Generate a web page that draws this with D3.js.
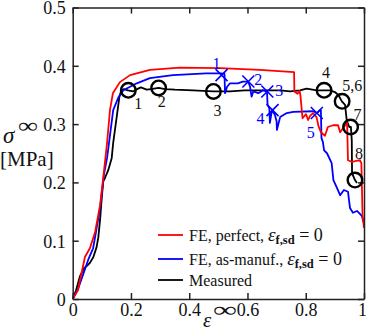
<!DOCTYPE html>
<html><head><meta charset="utf-8">
<script src="https://cdn.jsdelivr.net/npm/d3@7"></script>
<style>body{margin:0;background:#fff}svg{display:block}text{font-family:"Liberation Serif","Times New Roman",serif;fill:#111}</style>
</head><body><svg id="c" width="366" height="332"></svg>
<script>
// ---------- data ----------
const xTicks = [0, 0.2, 0.4, 0.6, 0.8, 1];
const xTickLabels = ["0", "0.2", "0.4", "0.6", "0.8", "1"];
const yTicks = [0, 0.1, 0.2, 0.3, 0.4, 0.5];
const yTickLabels = ["0", "0.1", "0.2", "0.3", "0.4", "0.5"];

const redCurve = [[0,0],[0.018,0.015],[0.042,0.072],[0.059,0.087],[0.077,0.115],[0.094,0.161],[0.104,0.204],[0.118,0.268],[0.128,0.324],[0.138,0.353],[0.162,0.372],[0.197,0.384],[0.265,0.393],[0.368,0.397],[0.506,0.396],[0.643,0.393],[0.760,0.389],[0.761,0.356],[0.772,0.352],[0.779,0.357],[0.782,0.348],[0.789,0.310],[0.801,0.317],[0.808,0.307],[0.815,0.314],[0.825,0.319],[0.837,0.312],[0.844,0.296],[0.852,0.286],[0.866,0.280],[0.876,0.295],[0.894,0.298],[0.911,0.298],[0.918,0.286],[0.928,0.293],[0.942,0.302],[0.945,0.238],[0.959,0.235],[0.973,0.237],[0.986,0.238],[0.991,0.233],[0.995,0.144],[1.0,0.122]];

const blueCurve = [[0,0],[0.018,0.017],[0.035,0.041],[0.053,0.067],[0.070,0.087],[0.080,0.115],[0.094,0.156],[0.107,0.213],[0.118,0.242],[0.126,0.273],[0.139,0.324],[0.157,0.346],[0.174,0.358],[0.220,0.370],[0.265,0.379],[0.344,0.384],[0.458,0.387],[0.509,0.387],[0.521,0.386],[0.523,0.353],[0.530,0.364],[0.540,0.370],[0.567,0.370],[0.584,0.373],[0.602,0.373],[0.609,0.364],[0.614,0.347],[0.620,0.356],[0.637,0.353],[0.654,0.358],[0.667,0.355],[0.669,0.333],[0.675,0.327],[0.677,0.302],[0.684,0.324],[0.694,0.316],[0.700,0.305],[0.701,0.290],[0.712,0.312],[0.735,0.319],[0.757,0.321],[0.825,0.322],[0.839,0.319],[0.849,0.324],[0.852,0.324],[0.854,0.276],[0.859,0.269],[0.863,0.255],[0.873,0.250],[0.889,0.233],[0.895,0.204],[0.906,0.192],[0.918,0.178],[0.931,0.187],[0.945,0.184],[0.952,0.156],[0.962,0.148],[0.976,0.151],[0.986,0.146],[0.993,0.142],[0.998,0.132]];

const blackCurve = [[0,0],[0.011,0.014],[0.025,0.039],[0.039,0.053],[0.049,0.057],[0.059,0.062],[0.071,0.072],[0.082,0.089],[0.088,0.106],[0.094,0.136],[0.100,0.175],[0.105,0.202],[0.111,0.208],[0.122,0.221],[0.134,0.242],[0.139,0.268],[0.151,0.312],[0.160,0.346],[0.166,0.357],[0.176,0.360],[0.190,0.358],[0.207,0.356],[0.221,0.360],[0.234,0.363],[0.254,0.359],[0.269,0.360],[0.295,0.362],[0.317,0.360],[0.351,0.359],[0.413,0.358],[0.483,0.356],[0.540,0.356],[0.591,0.358],[0.653,0.358],[0.712,0.358],[0.746,0.356],[0.763,0.357],[0.780,0.358],[0.803,0.361],[0.838,0.358],[0.863,0.358],[0.883,0.358],[0.900,0.355],[0.912,0.350],[0.924,0.339],[0.935,0.333],[0.941,0.305],[0.950,0.295],[0.955,0.295],[0.958,0.273],[0.959,0.216],[0.969,0.204],[0.976,0.199]];

const circlePoints = [[0.191,0.358],[0.295,0.362],[0.483,0.356],[0.863,0.358],[0.925,0.339],[0.954,0.295],[0.969,0.204]];
const circleLabels = ["1","2","3","4","5,6","7","8"];
const crossPoints = [[0.511,0.384],[0.603,0.373],[0.668,0.356],[0.686,0.324],[0.838,0.319]];
const crossLabels = ["1","2","3","4","5"];

const legendLabels = ["FE, perfect, ", "FE, as-manuf., ", "Measured"];
const legendColors = ["#ff0000", "#0000ff", "#000000"];

// ---------- layout ----------
const circleLabelOffsets = [[10,0],[3,0],[4,6],[2,-18],[10,-16],[7,-13],[4,-27]];
const circleLabelBase = 13;
const crossLabelOffsets = [[-5,-12],[10,-2],[12,-1],[-12,8],[-6,19]];

const svg = d3.select("#c");
const x = d3.scaleLinear().domain([0,1]).range([72.7,364]);
const y = d3.scaleLinear().domain([0,0.5]).range([299,7.5]);
const axisColor = "#222";

// curves
const line = d3.line().x(d=>x(d[0])).y(d=>y(d[1]));
const curves = [[blackCurve,"#000000"],[blueCurve,"#0000ff"],[redCurve,"#ff0000"]];
svg.append("g").selectAll("path").data(curves).join("path")
  .attr("d", d=>line(d[0])).attr("fill","none").attr("stroke", d=>d[1])
  .attr("stroke-width",1.8).attr("stroke-linejoin","round");

// axes (box with inward ticks)
function styleAxis(g){
  g.selectAll("path.domain").attr("stroke",axisColor).attr("stroke-width",1.5);
  g.selectAll(".tick line").attr("stroke",axisColor).attr("stroke-width",1.5);
  g.selectAll(".tick text").attr("fill","#111").style("font-size","18px")
    .style("font-family","'Liberation Serif',serif");
}
const gB = svg.append("g").attr("transform","translate(0,299)")
  .call(d3.axisBottom(x).tickValues(xTicks).tickFormat((d,i)=>xTickLabels[i]).tickSizeInner(-6).tickSizeOuter(0).tickPadding(4));
styleAxis(gB);
gB.selectAll(".tick text").attr("y",null).attr("dy",null)
  .attr("transform",(d,i)=> i===xTicks.length-1 ? "translate(-2,17)" : "translate(0,17)");
const gT = svg.append("g").attr("transform","translate(0,7.5)")
  .call(d3.axisTop(x).tickValues(xTicks).tickFormat("").tickSizeInner(-6).tickSizeOuter(0));
styleAxis(gT);
const gL = svg.append("g").attr("transform","translate(72.7,0)")
  .call(d3.axisLeft(y).tickValues(yTicks).tickFormat((d,i)=>yTickLabels[i]).tickSizeInner(-6).tickSizeOuter(0).tickPadding(8));
styleAxis(gL);
gL.selectAll(".tick text").attr("x",-7).attr("dy","0.35em");
const gR = svg.append("g").attr("transform","translate(364,0)")
  .call(d3.axisRight(y).tickValues(yTicks).tickFormat("").tickSizeInner(-6).tickSizeOuter(0));
styleAxis(gR);

// cross markers
const cg = svg.append("g");
crossPoints.forEach((p,i)=>{
  const cx=x(p[0]), cy=y(p[1]), s=6;
  cg.append("path").attr("d",`M${cx-s},${cy-s}L${cx+s},${cy+s}M${cx-s},${cy+s}L${cx+s},${cy-s}`)
    .attr("stroke","#0000ff").attr("stroke-width",1.6).attr("fill","none");
  cg.append("text").attr("x",cx+crossLabelOffsets[i][0]).attr("y",cy+crossLabelOffsets[i][1])
    .attr("dy","0.35em").attr("text-anchor","middle").style("font-size","16px").style("fill","#0000ff")
    .text(crossLabels[i]);
});

// circle markers
const og = svg.append("g");
circlePoints.forEach((p,i)=>{
  const cx=x(p[0]), cy=y(p[1]);
  og.append("circle").attr("cx",cx).attr("cy",cy).attr("r",7.3)
    .attr("fill","none").attr("stroke","#000").attr("stroke-width",2.4);
  const off = circleLabelOffsets[i];
  const dy = i<3 ? circleLabelBase+off[1] : off[1];
  og.append("text").attr("x",cx+off[0]).attr("y",cy+dy).attr("dy","0.35em")
    .attr("text-anchor","middle").style("font-size","16px").text(circleLabels[i]);
});

// axis titles
const yl = svg.append("g");
yl.append("text").attr("x",3).attr("y",143).style("font-size","23px").style("font-style","italic").text("σ");
yl.append("text").attr("x",18).attr("y",133).style("font-size","22px")
  .attr("textLength",20).attr("lengthAdjust","spacingAndGlyphs").text("∞");
yl.append("text").attr("x",0).attr("y",166).style("font-size","21px").text("[MPa]");
const xl = svg.append("g");
xl.append("text").attr("x",203).attr("y",327).style("font-size","21px").style("font-style","italic").text("ε");
xl.append("text").attr("x",213).attr("y",317).style("font-size","22px")
  .attr("textLength",24).attr("lengthAdjust","spacingAndGlyphs").text("∞");

// legend
const lg = svg.append("g");
const legY = [235, 259, 280];
legendLabels.forEach((lab,i)=>{
  lg.append("line").attr("x1",158).attr("x2",183).attr("y1",legY[i]).attr("y2",legY[i])
    .attr("stroke",legendColors[i]).attr("stroke-width",1.8);
  const t = lg.append("text").attr("x",189).attr("y",legY[i]+6).style("font-size","16px");
  t.append("tspan").text(lab);
  if(i<2){
    t.append("tspan").style("font-size","19px").style("font-style","italic").text("ε");
    t.append("tspan").attr("dy",3).style("font-size","12.5px").style("font-weight","bold").text("f,sd");
    t.append("tspan").attr("dy",-3).style("font-size","18px").text(" = 0");
  }
});
</script></body></html>
